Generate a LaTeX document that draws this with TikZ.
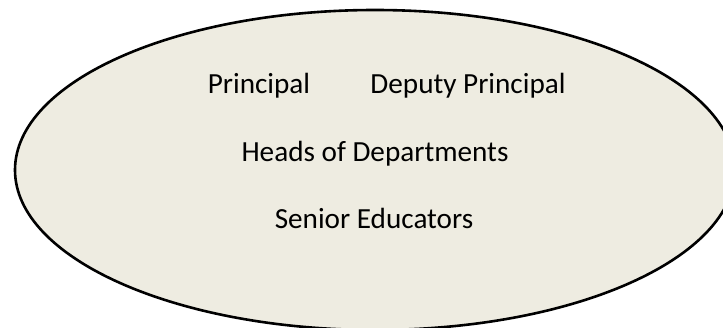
\documentclass[tikz,border=0pt]{standalone}
\usepackage{fontspec}
\setmainfont{Carlito}
\definecolor{paper}{HTML}{EEECE1}
\tikzset{
  staff/.style={anchor=base, inner sep=0pt, font=\fontsize{14.6}{17}\selectfont},
}

\begin{document}
\begin{tikzpicture}[x=0.5pt, y=-0.5pt]
\useasboundingbox (0,0) rectangle (723,327);
\clip (0,0) rectangle (723,327);
\draw[fill=paper, line width=1.3pt] (375,170) ellipse [x radius=360, y radius=160];
\node[staff] (principal) at (259,93) {Principal};
\node[staff] (deputy) at (468,93) {Deputy Principal};
\node[staff] (hods) at (375,161) {Heads of Departments};
\node[staff] (seniors) at (374,228) {Senior Educators};
\end{tikzpicture}
\end{document}
